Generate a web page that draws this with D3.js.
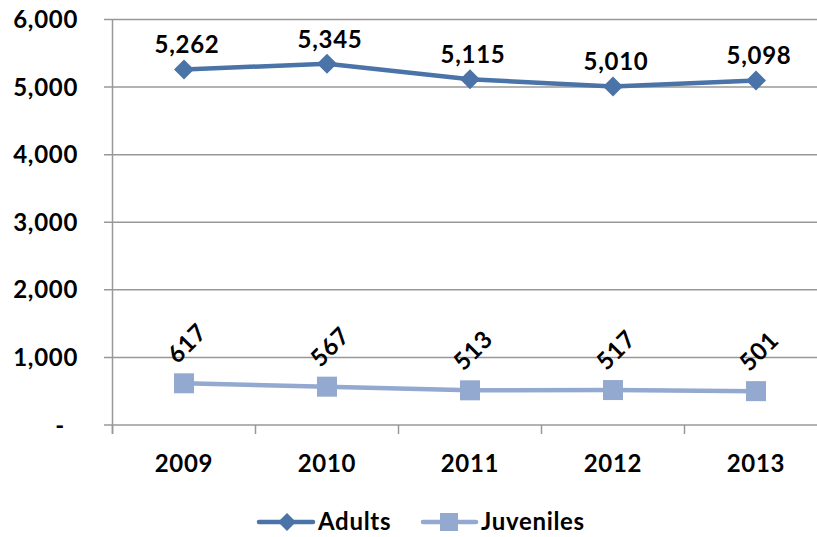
<!DOCTYPE html>
<html><head><meta charset="utf-8">
<script src="https://cdn.jsdelivr.net/npm/d3@7"></script>
<style>body{margin:0;background:#fff;}text{font-family:Lato, "Open Sans", sans-serif;font-weight:bold;fill:#000;letter-spacing:0.7px;}</style>
</head><body>
<svg id="c" width="817" height="537"></svg>
<script>
const years = ["2009","2010","2011","2012","2013"];
const adults = [5262,5345,5115,5010,5098];
const juveniles = [617,567,513,517,501];
const yTicks = [0,1000,2000,3000,4000,5000,6000];

const svg = d3.select("#c");
const x = d3.scaleBand().domain(years).range([112.5, 827.5]);
const y = d3.scaleLinear().domain([0,6000]).range([425,19.5]);
const cx = d => x(d) + x.bandwidth()/2;
const grid = "#989898";
const fs = 24;

// gridlines
svg.append("g").selectAll("line").data(yTicks).join("line")
  .attr("x1",104).attr("x2",817).attr("y1",d=>y(d)).attr("y2",d=>y(d))
  .attr("stroke",grid).attr("stroke-width",1.5);
// y axis line
svg.append("line").attr("x1",112.5).attr("x2",112.5).attr("y1",19.5).attr("y2",434)
  .attr("stroke",grid).attr("stroke-width",1.5);
// x ticks
const bounds = years.map(d=>x(d)).concat([x(years[years.length-1])+x.bandwidth()]);
svg.append("g").selectAll("line").data(bounds).join("line")
  .attr("x1",d=>d).attr("x2",d=>d).attr("y1",425).attr("y2",434)
  .attr("stroke",grid).attr("stroke-width",1.5);
// y labels
svg.append("g").selectAll("text").data(yTicks).join("text")
  .attr("x",d=>d===0?65:78).attr("y",d=>y(d)+8.5).attr("text-anchor","end")
  .attr("font-size",fs).text(d=>d===0?"-":d3.format(",")(d));
// x labels
svg.append("g").selectAll("text").data(years).join("text")
  .attr("x",cx).attr("y",472).attr("text-anchor","middle").attr("font-size",fs).text(d=>d);

const cA = "#4A73A8", cJ = "#93A9D0";
const line = d3.line().x((d,i)=>cx(years[i])).y(d=>y(d));
svg.append("path").datum(juveniles).attr("d",line).attr("fill","none").attr("stroke",cJ).attr("stroke-width",4.5);
svg.append("path").datum(adults).attr("d",line).attr("fill","none").attr("stroke",cA).attr("stroke-width",4.5);

// markers
svg.append("g").selectAll("rect").data(juveniles).join("rect")
  .attr("x",(d,i)=>cx(years[i])-10).attr("y",d=>y(d)-10).attr("width",20).attr("height",20).attr("fill",cJ);
svg.append("g").selectAll("path").data(adults).join("path")
  .attr("transform",(d,i)=>`translate(${cx(years[i])},${y(d)})`)
  .attr("d","M0,-10L10,0L0,10L-10,0Z").attr("fill",cA);

// data labels
svg.append("g").selectAll("text").data(adults).join("text")
  .attr("x",(d,i)=>cx(years[i])+3).attr("y",d=>y(d)-16).attr("text-anchor","middle")
  .attr("font-size",fs).text(d=>d3.format(",")(d));
svg.append("g").selectAll("text").data(juveniles).join("text")
  .attr("transform",(d,i)=>`translate(${cx(years[i])+3},${y(d)-40}) rotate(-45)`)
  .attr("text-anchor","middle").attr("dy","0.35em")
  .attr("font-size",fs).text(d=>d3.format(",")(d));

// legend
const lg = svg.append("g");
lg.append("line").attr("x1",259).attr("x2",313).attr("y1",522).attr("y2",522).attr("stroke",cA).attr("stroke-width",4.5).attr("stroke-linecap","round");
lg.append("path").attr("transform","translate(287,522)").attr("d","M0,-9L9,0L0,9L-9,0Z").attr("fill",cA);
lg.append("text").attr("x",318).attr("y",530).attr("font-size",fs).text("Adults");
lg.append("line").attr("x1",423).attr("x2",476).attr("y1",522).attr("y2",522).attr("stroke",cJ).attr("stroke-width",4.5).attr("stroke-linecap","round");
lg.append("rect").attr("x",440).attr("y",513).attr("width",18).attr("height",18).attr("fill",cJ);
lg.append("text").attr("x",481).attr("y",530).attr("font-size",fs).text("Juveniles");
</script>
</body></html>
